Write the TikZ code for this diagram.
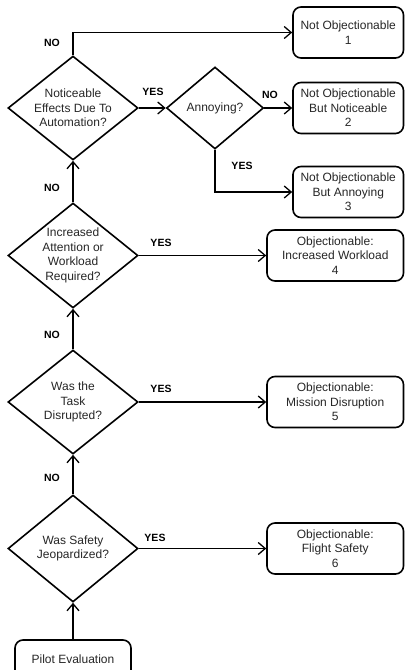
\documentclass[tikz,border=0pt]{standalone}
\usepackage{fontspec}
\setmainfont{Liberation Sans}
\usetikzlibrary{shapes.geometric,arrows.meta}

\begin{document}
\begin{tikzpicture}
  [x=1pt,y=-1pt,line width=1.6pt,
   every node/.style={font=\fontsize{12}{14.5}\selectfont,text=black!85},
   decision/.style={diamond,draw,minimum width=130,minimum height=104,inner sep=0},
   outcome/.style={draw,rounded corners=8,align=center,minimum height=51,inner sep=0},
   answer/.style={font=\fontsize{10.5}{12}\selectfont\bfseries,text=black},
   flow/.style={-{Straight Barb[length=7pt,width=12pt,line width=1.3pt]}}]
  \useasboundingbox (0,0) rectangle (405,670);

  \node[decision,label={[align=center]center:Noticeable\\Effects Due To\\Automation?}] (d1) at (73,108) {};
  \node[decision,minimum width=97,minimum height=82,label={center:Annoying?}] (d2) at (215,108) {};
  \node[decision,minimum height=105,label={[align=center]center:Increased\\Attention or\\Workload\\Required?}] (d3) at (73,255.5) {};
  \node[decision,label={[align=center]center:Was the\\Task\\Disrupted?}] (d4) at (73,402) {};
  \node[decision,minimum height=107,label={[align=center]center:Was Safety\\Jeopardized?}] (d5) at (73,548.5) {};

  \node[outcome,minimum width=110.5] (b1) at (348.25,32.5) {Not Objectionable\\1};
  \node[outcome,minimum width=110.5] (b2) at (348.25,108) {Not Objectionable\\But Noticeable\\2};
  \node[outcome,minimum width=110.5] (b3) at (348.25,192) {Not Objectionable\\But Annoying\\3};
  \node[outcome,minimum width=136.5] (b4) at (335.25,255.5) {Objectionable:\\Increased Workload\\4};
  \node[outcome,minimum width=136.5] (b5) at (335.25,402) {Objectionable:\\Mission Disruption\\5};
  \node[outcome,minimum width=136.5] (b6) at (335.25,548.5) {Objectionable:\\Flight Safety\\6};
  \node[outcome,minimum width=116,minimum height=38] (pilot) at (73,659) {Pilot Evaluation};

  \draw[flow] (pilot.north) -- (d5.south);
  \draw[flow] (d5.north) -- (d4.south);
  \draw[flow] (d4.north) -- (d3.south);
  \draw[flow] (d3.north) -- (d1.south);
  \draw[flow] (d1.north) |- (b1.west);
  \draw[flow] (d1.east) -- (d2.west);
  \draw[flow] (d2.east) -- (b2.west);
  \draw[flow] (d2.south) |- (b3.west);
  \foreach \from/\to in {d3/b4, d4/b5, d5/b6}
    \draw[flow] (\from.east) -- (\to.west);

  \node[answer] (no1) at (52,43) {NO};
  \node[answer] (yes1) at (153,92) {YES};
  \node[answer] (no2) at (270,95) {NO};
  \node[answer] (yes2) at (242,166) {YES};
  \node[answer] (no3) at (52,188) {NO};
  \node[answer] (yes3) at (161,243) {YES};
  \node[answer] (no4) at (52,335) {NO};
  \node[answer] (yes4) at (161,389) {YES};
  \node[answer] (no5) at (52,478) {NO};
  \node[answer] (yes5) at (155,538) {YES};
\end{tikzpicture}
\end{document}
